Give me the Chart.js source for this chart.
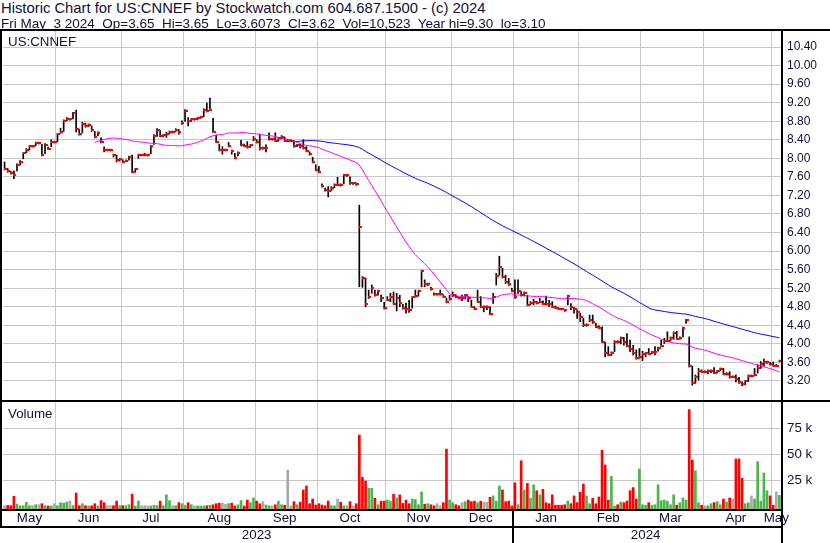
<!DOCTYPE html>
<html>
<head>
<meta charset="utf-8">
<script src="https://cdn.jsdelivr.net/npm/chart.js@4.4.1/dist/chart.umd.min.js"></script>
<style>
body{margin:0;background:#fff;width:830px;height:543px;position:relative;overflow:hidden;font-family:"Liberation Sans",Arial,sans-serif;color:#101038}
canvas{position:absolute;left:0}
.txt{position:absolute;font-size:13.33px;line-height:13.33px;white-space:pre}
.ln{position:absolute;background:#000}
</style>
</head>
<body>
<canvas id="price" width="830" height="369" style="top:31px"></canvas>
<canvas id="vol" width="830" height="141" style="top:402px"></canvas>

<div class="txt" style="left:1px;top:1px;font-size:14.8px;line-height:14.8px">Historic Chart for US:CNNEF by Stockwatch.com 604.687.1500 - (c) 2024</div>
<div class="txt" style="left:1px;top:17px;font-size:13.5px;line-height:13.5px">Fri May  3 2024  Op=3.65  Hi=3.65  Lo=3.6073  Cl=3.62  Vol=10,523  Year hi=9.30  lo=3.10</div>
<div class="txt" style="left:8px;top:35px">US:CNNEF</div>
<div class="txt" style="left:8px;top:407px">Volume</div>

<div class="ln" style="left:0;top:29px;width:830px;height:2px"></div>
<div class="ln" style="left:0;top:29px;width:2px;height:499px"></div>
<div class="ln" style="left:781px;top:29px;width:2px;height:514px"></div>
<div class="ln" style="left:0;top:400px;width:830px;height:2px"></div>
<div class="ln" style="left:0;top:509px;width:783px;height:2px"></div>
<div class="ln" style="left:0;top:526px;width:783px;height:2px"></div>
<div class="ln" style="left:512px;top:509px;width:2px;height:34px"></div>

<script>
// trading days shown: 2023-05-08 .. 2024-05-03
const firstDay = '2023-05-08';
const lastDay = '2024-05-03';
const holidays = ['2023-05-29','2023-06-19','2023-07-04','2023-09-04','2023-11-23',
  '2023-12-25','2024-01-01','2024-01-15','2024-02-19','2024-03-29'];
const monthNames = ['Jan','Feb','Mar','Apr','May','Jun','Jul','Aug','Sep','Oct','Nov','Dec'];

const closes = [
  7.77,7.72,7.68,7.65,7.86,7.93,8.11,8.17,8.26,8.26,
  8.33,8.33,8.07,8.28,8.21,8.35,8.35,8.52,8.57,8.81,
  8.84,8.84,8.97,8.64,8.52,8.74,8.69,8.72,8.60,8.46,
  8.54,8.35,8.18,8.18,8.18,8.07,7.96,7.98,7.93,7.95,
  8.03,7.70,7.76,8.07,8.07,8.07,8.07,8.26,8.49,8.62,
  8.49,8.50,8.53,8.57,8.57,8.62,8.57,8.77,9.03,8.81,
  8.84,8.84,8.86,8.89,9.05,9.01,9.05,8.56,8.36,8.18,
  8.18,8.18,8.26,8.15,8.00,8.11,8.29,8.27,8.24,8.28,
  8.41,8.35,8.22,8.22,8.23,8.41,8.41,8.38,8.43,8.47,
  8.38,8.38,8.38,8.26,8.28,8.26,8.22,8.16,8.09,7.92,
  7.75,7.70,7.40,7.31,7.29,7.35,7.43,7.43,7.42,7.63,
  7.63,7.46,7.46,7.44,6.53,5.41,4.85,5.02,5.21,5.05,
  5.13,4.98,4.77,4.95,5.02,4.87,4.98,4.88,4.77,4.76,
  4.73,5.00,5.03,5.14,5.57,5.28,5.29,5.18,5.07,5.07,
  5.07,5.02,4.90,4.97,5.06,5.02,4.99,4.99,5.05,4.98,
  4.80,4.76,4.91,4.80,4.80,4.80,4.65,5.00,5.46,5.65,
  5.44,5.33,5.28,5.15,5.00,5.13,5.05,5.10,4.84,4.89,
  4.91,4.88,4.91,4.87,4.86,4.85,4.80,4.78,4.76,4.75,
  4.72,5.03,4.79,4.76,4.68,4.59,4.40,4.41,4.51,4.48,
  4.37,4.35,4.05,3.81,3.77,3.81,4.05,4.04,4.12,4.05,
  3.95,3.90,3.81,3.70,3.72,3.78,3.80,3.79,3.82,3.83,
  3.91,3.95,4.06,4.07,4.13,4.23,4.11,4.13,4.34,4.51,
  3.52,3.15,3.29,3.41,3.40,3.40,3.41,3.42,3.38,3.41,
  3.46,3.35,3.36,3.29,3.29,3.24,3.17,3.13,3.19,3.31,
  3.31,3.33,3.48,3.57,3.60,3.61,3.56,3.53,3.53,3.62
];

const highs = [
  7.92,7.78,7.72,7.73,7.88,7.95,8.12,8.21,8.28,8.28,
  8.35,8.35,8.30,8.32,8.24,8.40,8.37,8.54,8.65,8.83,
  8.88,8.86,8.99,9.04,8.62,8.78,8.76,8.74,8.70,8.58,
  8.57,8.44,8.25,8.20,8.20,8.09,8.07,8.00,7.97,7.97,
  8.05,8.07,7.78,8.09,8.09,8.11,8.09,8.28,8.51,8.64,
  8.60,8.52,8.56,8.59,8.59,8.64,8.62,8.81,9.05,8.88,
  8.86,8.86,8.88,8.91,9.07,9.19,9.30,8.86,8.50,8.30,
  8.25,8.20,8.34,8.18,8.11,8.14,8.39,8.31,8.36,8.30,
  8.47,8.40,8.52,8.24,8.29,8.55,8.43,8.55,8.45,8.49,
  8.46,8.40,8.40,8.38,8.30,8.30,8.40,8.25,8.14,8.02,
  7.86,7.83,7.45,7.36,7.39,7.39,7.45,7.59,7.45,7.64,
  7.65,7.60,7.48,7.47,6.99,5.45,5.42,5.16,5.27,5.16,
  5.16,5.05,4.90,5.02,5.09,5.12,5.09,5.05,4.85,4.88,
  4.94,5.02,5.16,5.16,5.59,5.38,5.31,5.22,5.10,5.09,
  5.16,5.06,4.98,5.05,5.12,5.06,5.01,5.05,5.07,5.02,
  4.94,4.80,5.16,5.02,4.82,4.82,4.80,5.09,5.52,5.89,
  5.63,5.48,5.41,5.20,5.38,5.38,5.12,5.12,5.05,4.91,
  4.96,4.92,4.98,4.93,5.03,4.94,4.91,4.82,4.78,4.77,
  4.75,5.05,4.87,4.79,4.73,4.66,4.55,4.43,4.62,4.62,
  4.45,4.39,4.37,4.04,3.94,3.83,4.07,4.07,4.15,4.14,
  4.22,4.08,3.97,3.87,3.90,3.84,3.82,3.90,3.84,3.94,
  3.93,4.08,4.12,4.26,4.15,4.26,4.27,4.15,4.36,4.53,
  4.15,3.52,3.33,3.47,3.44,3.42,3.44,3.44,3.49,3.43,
  3.48,3.47,3.38,3.40,3.31,3.33,3.28,3.18,3.21,3.33,
  3.33,3.47,3.55,3.62,3.67,3.63,3.60,3.61,3.56,3.65
];

const lows = [
  7.75,7.70,7.66,7.56,7.73,7.86,7.99,8.12,8.18,8.24,
  8.27,8.31,8.05,8.10,8.19,8.25,8.33,8.36,8.54,8.58,
  8.81,8.82,8.85,8.57,8.50,8.55,8.67,8.68,8.58,8.44,
  8.49,8.33,8.14,8.16,8.16,8.03,7.92,7.94,7.91,7.93,
  7.96,7.69,7.70,8.00,8.05,8.05,8.05,8.10,8.30,8.47,
  8.46,8.47,8.45,8.53,8.55,8.58,8.52,8.73,8.80,8.70,
  8.80,8.82,8.83,8.86,8.90,9.00,9.04,8.56,8.34,8.16,
  8.09,8.16,8.25,8.09,7.99,8.05,8.27,8.25,8.22,8.24,
  8.38,8.33,8.18,8.20,8.14,8.39,8.39,8.36,8.37,8.42,
  8.36,8.36,8.36,8.24,8.25,8.22,8.20,8.14,8.07,7.90,
  7.73,7.69,7.38,7.29,7.17,7.30,7.37,7.41,7.40,7.45,
  7.61,7.44,7.44,7.42,5.23,5.22,4.80,4.98,5.09,5.03,
  5.05,4.91,4.75,4.93,4.91,4.85,4.71,4.80,4.75,4.66,
  4.68,4.77,5.01,5.03,5.23,5.23,5.26,5.16,5.05,5.05,
  5.05,5.00,4.89,4.94,5.02,5.00,4.97,4.93,4.97,4.91,
  4.79,4.74,4.91,4.79,4.69,4.74,4.63,4.87,5.27,5.48,
  5.42,5.30,5.26,5.12,4.98,5.09,5.03,5.03,4.82,4.84,
  4.84,4.86,4.89,4.85,4.84,4.80,4.78,4.76,4.74,4.73,
  4.70,4.84,4.74,4.66,4.55,4.48,4.37,4.38,4.48,4.44,
  4.35,4.33,4.03,3.72,3.74,3.75,3.83,4.02,4.00,3.97,
  3.94,3.83,3.76,3.67,3.69,3.64,3.72,3.77,3.79,3.76,
  3.84,3.94,4.01,4.05,4.06,4.10,4.09,4.10,4.15,4.44,
  3.50,3.11,3.15,3.22,3.38,3.38,3.36,3.38,3.36,3.38,
  3.42,3.33,3.33,3.26,3.27,3.18,3.15,3.10,3.12,3.19,
  3.29,3.31,3.37,3.47,3.52,3.58,3.54,3.52,3.51,3.61
];

// volume in thousands of shares
const volumesK = [
  0.5,0.8,0.6,9.6,2.2,0.5,0.5,3.8,0.6,0.6,
  1.5,1.5,2.5,0.6,0.3,0.3,2.5,0.6,3.5,3.0,
  4.0,5.0,0.6,12.8,0.6,2.5,0.6,0.3,0.5,2.5,
  0.3,5.5,3.5,0.6,0.6,0.6,5.0,0.6,0.6,0.5,
  1.5,11.7,0.3,5.0,0.6,0.6,0.3,0.3,0.8,0.6,
  5.0,0.6,11.0,5.5,0.6,0.6,3.5,2.5,0.8,3.5,
  1.5,0.3,0.3,0.3,0.3,0.5,1.0,1.5,2.5,3.0,
  3.0,2.0,2.5,3.0,0.3,1.5,5.5,0.3,6.0,3.5,
  8.0,5.0,2.4,4.4,1.2,0.5,0.6,1.5,5.0,1.5,
  1.0,34.8,0.4,4.5,1.5,4.0,15.7,19.5,2.5,7.0,
  1.2,2.5,1.2,0.5,5.0,0.5,0.5,7.0,4.0,0.5,
  0.5,4.5,0.3,2.5,68.5,27.8,24.3,17.3,17.3,7.7,
  1.5,5.0,5.0,6.0,5.0,11.5,8.0,11.0,2.8,6.0,
  2.5,7.0,6.5,1.5,13.8,2.0,2.5,1.5,0.5,2.5,
  0.4,3.5,55.0,6.0,3.5,1.5,0.5,3.5,4.5,6.0,
  4.5,5.0,3.5,5.0,4.0,4.0,8.7,10.0,5.0,19.5,
  15.7,4.5,5.0,0.3,22.6,1.5,43.8,15.7,22.0,7.7,
  20.7,15.0,11.0,16.3,3.5,2.5,11.0,1.0,1.0,1.0,
  1.5,5.0,2.5,10.0,3.5,13.5,21.4,10.0,2.5,7.7,
  2.5,9.0,54.0,39.7,6.0,28.8,0.3,1.5,4.0,3.5,
  5.0,15.0,18.0,7.0,35.8,1.5,1.0,3.5,1.0,1.5,
  20.7,5.5,6.0,5.0,1.5,11.0,1.0,3.5,8.0,6.0,
  93.0,44.5,34.2,3.5,1.0,0.3,0.5,2.5,3.5,4.5,
  1.5,7.0,4.0,8.0,7.0,45.5,45.5,27.0,2.5,3.5,
  10.0,7.0,42.8,5.0,32.0,15.0,10.0,1.0,13.8,10.523
];

const priceTicks = [3.20,3.60,4.00,4.40,4.80,5.20,5.60,6.00,6.40,6.80,7.20,7.60,8.00,8.40,8.80,9.20,9.60,10.00,10.40];
const volumeTicks = [25, 50, 75];
const maShort = 30;
const maLong = 94;

// ---------- derived ----------
const dates = [];
for (let d = new Date(firstDay + 'T00:00:00Z'); d <= new Date(lastDay + 'T00:00:00Z'); d.setUTCDate(d.getUTCDate() + 1)) {
  const iso = d.toISOString().slice(0, 10);
  const wd = d.getUTCDay();
  if (wd === 0 || wd === 6 || holidays.includes(iso)) continue;
  dates.push(iso);
}

const monthStarts = new Set();
const monthLabelAt = {};
const yearLabelAt = {};
let runStart = 0;
for (let i = 1; i <= dates.length; i++) {
  if (i === dates.length || dates[i].slice(0, 7) !== dates[i - 1].slice(0, 7)) {
    const mid = Math.floor((runStart + i - 1) / 2);
    monthLabelAt[mid] = monthNames[+dates[runStart].slice(5, 7) - 1];
    if (i < dates.length) monthStarts.add(i);
    runStart = i;
  }
}
runStart = 0;
for (let i = 1; i <= dates.length; i++) {
  if (i === dates.length || dates[i].slice(0, 4) !== dates[i - 1].slice(0, 4)) {
    yearLabelAt[Math.floor((runStart + i - 1) / 2)] = dates[runStart].slice(0, 4);
    runStart = i;
  }
}

function sma(arr, n) {
  return arr.map((_, i) => {
    if (i < n - 1) return null;
    let s = 0;
    for (let k = i - n + 1; k <= i; k++) s += arr[k];
    return s / n;
  });
}

const gridGray = '#c8c8c8';
const textCol = '#101038';
const monthGrid = ctx => monthStarts.has(ctx.index) ? gridGray : 'rgba(0,0,0,0)';
const noPad = s => { s.paddingTop = 0; s.paddingBottom = 0; s.paddingLeft = 0; s.paddingRight = 0; };

// red close tick drawn to the right of each high-low bar
const closeTicks = {
  id: 'closeTicks',
  afterDatasetsDraw(chart) {
    const { ctx, scales: { x, y } } = chart;
    ctx.save();
    ctx.fillStyle = '#ff0000';
    closes.forEach((c, i) => {
      const px = Math.round(x.getPixelForValue(i) - 0.5);
      const py = Math.round(y.getPixelForValue(c));
      ctx.fillRect(px, py - 1, 3, 2);
    });
    ctx.restore();
  }
};

new Chart(document.getElementById('price'), {
  type: 'bar',
  data: {
    labels: dates,
    datasets: [
      { type: 'line', data: sma(closes, maShort), borderColor: '#ff00ff', borderWidth: 1,
        pointRadius: 0, tension: 0, order: 1 },
      { type: 'line', data: sma(closes, maLong), borderColor: '#0000ff', borderWidth: 1,
        pointRadius: 0, tension: 0, order: 2 },
      { type: 'bar', data: lows.map((l, i) => [l, highs[i]]), backgroundColor: '#000000',
        barThickness: 1, borderWidth: 0, grouped: false, order: 3 }
    ]
  },
  options: {
    responsive: false,
    animation: false,
    events: [],
    layout: { padding: { left: 3, right: 0, top: 0, bottom: 0 } },
    plugins: { legend: { display: false }, tooltip: { enabled: false } },
    scales: {
      x: {
        grid: { offset: true, color: monthGrid, drawTicks: false },
        border: { display: false },
        ticks: { display: false, autoSkip: false },
        afterFit: s => { s.height = 0; noPad(s); }
      },
      y: {
        position: 'right',
        min: 2.79, max: 10.745,
        afterBuildTicks: s => { s.ticks = priceTicks.map(v => ({ value: v })); },
        afterFit: s => { s.width = 49; noPad(s); },
        grid: { color: gridGray, drawTicks: false },
        border: { display: false },
        ticks: { padding: 6, color: textCol, font: { family: 'Liberation Sans', size: 12 },
          callback: v => v.toFixed(2) }
      }
    }
  },
  plugins: [closeTicks]
});

const volColors = closes.map((c, i) =>
  i === 0 || c === closes[i - 1] ? '#a8a8a8' : (c > closes[i - 1] ? '#4db34d' : '#ff0000'));

new Chart(document.getElementById('vol'), {
  type: 'bar',
  data: {
    labels: dates,
    datasets: [
      { data: volumesK, base: -2.6, backgroundColor: volColors, barThickness: 2, borderWidth: 0 }
    ]
  },
  options: {
    responsive: false,
    animation: false,
    events: [],
    layout: { padding: { left: 3, right: 0, top: 0, bottom: 0 } },
    plugins: { legend: { display: false }, tooltip: { enabled: false } },
    scales: {
      x: {
        grid: { offset: true, color: monthGrid, drawTicks: false },
        border: { display: false },
        ticks: { autoSkip: false, maxRotation: 0, minRotation: 0, padding: 1, color: textCol,
          font: { family: 'Liberation Sans', size: 13.33 },
          callback: (v, i) => monthLabelAt[i] || '' },
        afterFit: s => { s.height = 17; noPad(s); }
      },
      x2: {
        type: 'category',
        position: 'bottom',
        grid: { display: false, drawTicks: false },
        border: { display: false },
        ticks: { autoSkip: false, maxRotation: 0, minRotation: 0, padding: 1, color: textCol,
          font: { family: 'Liberation Sans', size: 13.33 },
          callback: (v, i) => yearLabelAt[i] || '' },
        afterFit: s => { s.height = 17; noPad(s); }
      },
      y: {
        position: 'right',
        min: -2.6, max: 100.3,
        afterBuildTicks: s => { s.ticks = volumeTicks.map(v => ({ value: v })); },
        afterFit: s => { s.width = 49; noPad(s); },
        grid: { color: gridGray, drawTicks: false },
        border: { display: false },
        ticks: { padding: 6, color: textCol, font: { family: 'Liberation Sans', size: 13.33 },
          callback: v => v + ' k' }
      }
    }
  }
});
</script>
</body>
</html>
